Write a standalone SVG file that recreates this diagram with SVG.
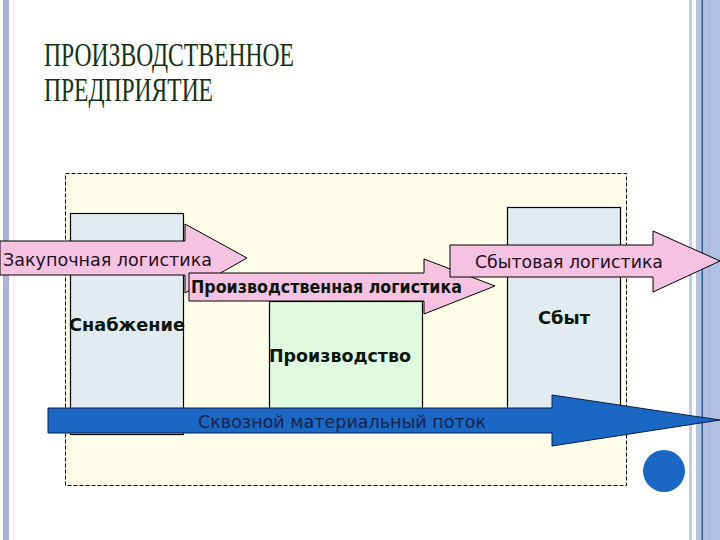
<svg xmlns="http://www.w3.org/2000/svg" width="720" height="540" viewBox="0 0 720 540">
<style>
.box{stroke:#000;stroke-width:1.2}
.blue{fill:#e2ecf0}
.pink{fill:#f5c2e2;stroke:#000;stroke-width:1}
.lbl{font-family:"DejaVu Sans",Verdana,sans-serif;font-weight:bold;font-size:17px;fill:#0d160d}
.alb{font-family:"DejaVu Sans",Verdana,sans-serif;font-size:17px;fill:#1e0f1e}
.title{font-family:"Liberation Serif","Times New Roman",serif;font-size:34px;fill:#143214}
</style>
<rect width="720" height="540" fill="#fff"/>
<g id="frame">
<rect x="3" y="0" width="6" height="540" fill="#a9b1dd"/>
<rect x="13" y="0" width="2" height="540" fill="#f6ecf6"/>
<rect x="689" y="0" width="3" height="540" fill="#c2cde2"/>
<rect x="696" y="0" width="5" height="540" fill="#b8c4dc"/>
<rect x="701" y="0" width="19" height="540" fill="#b0c0e0"/>
<rect x="701.5" y="0" width="1.5" height="540" fill="#2a5aa8"/>
<rect x="708" y="0" width="2" height="540" fill="#a8b8d8"/>
</g>
<g id="title">
<text class="title" x="44" y="66" textLength="250" lengthAdjust="spacingAndGlyphs">ПРОИЗВОДСТВЕННОЕ</text>
<text class="title" x="44" y="101" textLength="169" lengthAdjust="spacingAndGlyphs">ПРЕДПРИЯТИЕ</text>
</g>
<g id="enterprise">
<rect x="65.5" y="173.5" width="561" height="312" fill="#fefee9" stroke="#000" stroke-width="1" stroke-dasharray="4,2"/>
</g>
<g id="supply">
<rect class="box blue" x="70.5" y="213.5" width="113" height="221"/>
</g>
<g id="production">
<rect class="box" x="269.5" y="301.5" width="153" height="110" fill="#e0fbe0"/>
</g>
<g id="sales">
<rect class="box blue" x="507.5" y="207.5" width="113" height="204"/>
</g>
<g id="connectors">
<g id="purchase-logistics">
<polygon class="pink" points="0,241 185,241 185,224 247,258 185,293 185,275 0,275"/>
<text class="alb" x="3" y="266" textLength="209" lengthAdjust="spacingAndGlyphs">Закупочная логистика</text>
</g>
<g id="production-logistics">
<polygon class="pink" points="189,273 424,273 424,259 495,286 424,314 424,301 189,301"/>
<text class="lbl" x="191" y="293" textLength="271" lengthAdjust="spacingAndGlyphs">Производственная логистика</text>
</g>
<g id="sales-logistics">
<polygon class="pink" points="450,245 653,245 653,231 720,261 653,292 653,277 450,277"/>
<text class="alb" x="475" y="268" textLength="188" lengthAdjust="spacingAndGlyphs">Сбытовая логистика</text>
</g>
<g id="material-flow">
<polygon points="48,408 552,408 552,395 720,420 552,446 552,433 48,433" fill="#1a67c4" stroke="#0a1e46" stroke-width="1"/>
<text x="198" y="428" textLength="288" lengthAdjust="spacingAndGlyphs" style="font-family:'DejaVu Sans',Verdana,sans-serif;font-size:18px;fill:#13244e">Сквозной материальный поток</text>
</g>
</g>
<g id="labels">
<text class="lbl" x="69" y="331" textLength="116" lengthAdjust="spacingAndGlyphs">Снабжение</text>
<text class="lbl" x="269" y="362" textLength="142" lengthAdjust="spacingAndGlyphs">Производство</text>
<text class="lbl" x="538" y="324" textLength="52" lengthAdjust="spacingAndGlyphs">Сбыт</text>
</g>
<g id="dot">
<circle cx="664" cy="471" r="21" fill="#1a67c4"/>
</g>
</svg>
